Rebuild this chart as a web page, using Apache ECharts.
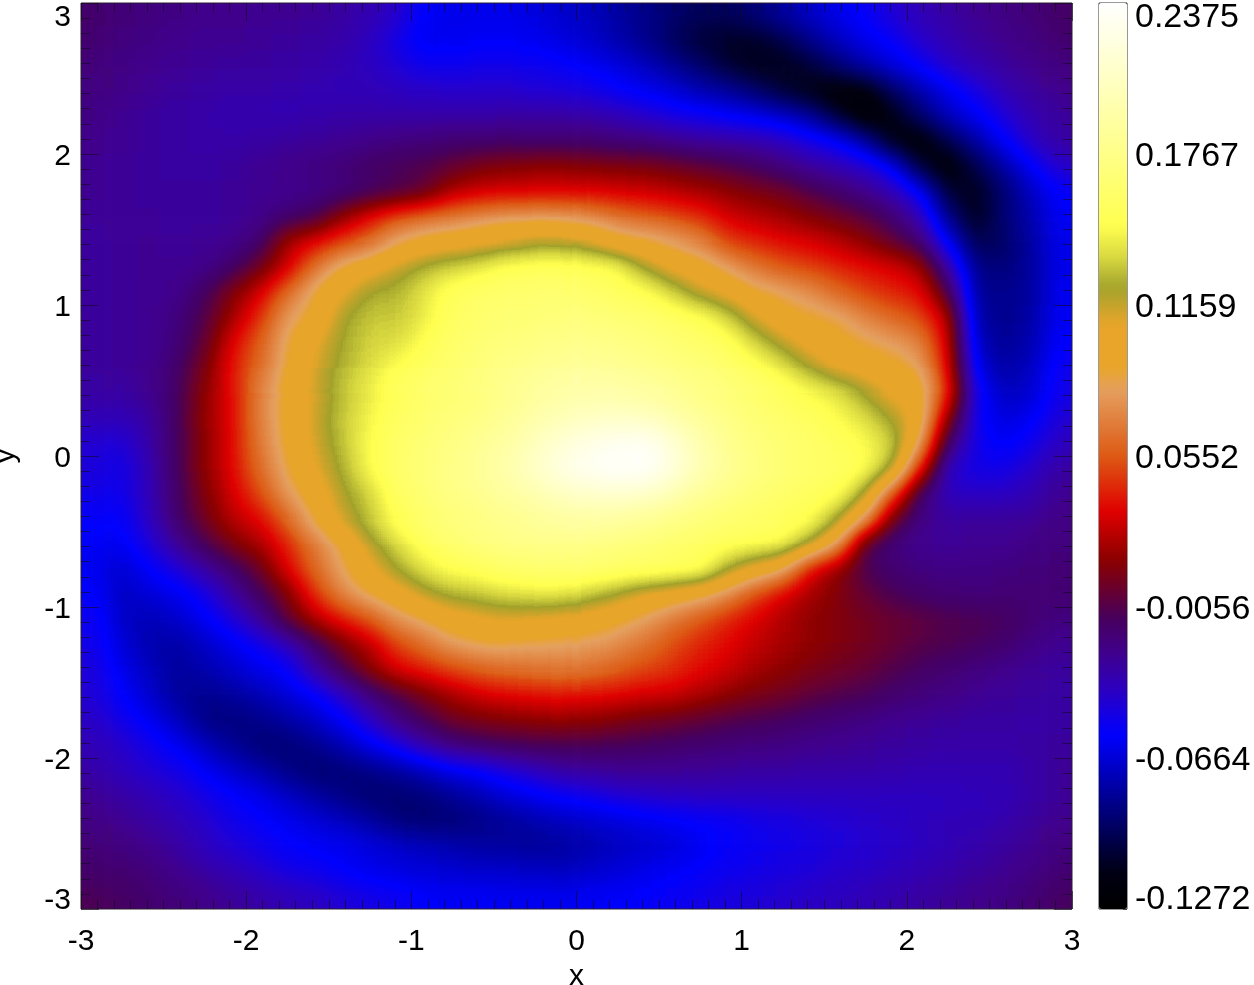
<!DOCTYPE html>
<html><head><meta charset="utf-8">
<style>html,body{margin:0;padding:0;background:#fff;overflow:hidden;width:1254px;height:985px}
#c{position:absolute;left:0;top:-60px;width:1254px;height:1045px}</style>
<script src="https://cdn.jsdelivr.net/npm/echarts@6/dist/echarts.min.js"></script>
</head><body>
<svg width="0" height="0" style="position:absolute"><filter id="fieldFilter" x="0" y="0" width="100%" height="100%" color-interpolation-filters="sRGB"><feGaussianBlur stdDeviation="12"/><feComponentTransfer><feFuncR id="fr" type="table"/><feFuncG id="fg" type="table"/><feFuncB id="fb" type="table"/></feComponentTransfer></filter></svg>
<div id="c"></div>
<script>
// cell centres, 1/6 unit apart
const xCats=['-2.917','-2.750','-2.583','-2.417','-2.250','-2.083','-1.917','-1.750','-1.583','-1.417','-1.250','-1.083','-0.917','-0.750','-0.583','-0.417','-0.250','-0.083','0.083','0.250','0.417','0.583','0.750','0.917','1.083','1.250','1.417','1.583','1.750','1.917','2.083','2.250','2.417','2.583','2.750','2.917'];
const yCats=['2.917','2.750','2.583','2.417','2.250','2.083','1.917','1.750','1.583','1.417','1.250','1.083','0.917','0.750','0.583','0.417','0.250','0.083','-0.083','-0.250','-0.417','-0.583','-0.750','-0.917','-1.083','-1.250','-1.417','-1.583','-1.750','-1.917','-2.083','-2.250','-2.417','-2.583','-2.750','-2.917'];
const colorbarTicks=[-0.1272,-0.0664,-0.0056,0.0552,0.1159,0.1767,0.2375];
const colorbarMinorTicks=[-0.0968,-0.0360,0.0248,0.0856,0.1463,0.2071];
// values, in thousandths, top row first
const r00=[-14,-18,-20,-22,-24,-24,-25,-26,-27,-30,-34,-42,-58,-62,-62,-62,-64,-68,-72,-78,-85,-92,-96,-96,-88,-78,-70,-62,-54,-44,-36,-30,-26,-22,-18,-13];
const r01=[-16,-20,-22,-24,-26,-26,-27,-28,-30,-32,-38,-50,-62,-60,-58,-58,-60,-64,-68,-75,-85,-95,-104,-108,-108,-100,-85,-72,-62,-54,-42,-34,-28,-24,-20,-16];
const r02=[-18,-21,-24,-26,-27,-28,-29,-30,-32,-34,-38,-44,-52,-52,-50,-50,-52,-54,-58,-64,-72,-82,-92,-104,-112,-112,-104,-90,-76,-64,-54,-42,-34,-28,-24,-20];
const r03=[-20,-23,-26,-28,-30,-31,-32,-33,-34,-35,-36,-38,-40,-42,-42,-42,-44,-45,-48,-54,-60,-66,-74,-80,-92,-105,-115,-122,-118,-95,-76,-62,-48,-36,-28,-24];
const r04=[-22,-25,-28,-30,-32,-34,-34,-34,-33,-32,-32,-32,-32,-32,-32,-30,-30,-30,-32,-36,-42,-48,-52,-57,-62,-68,-80,-105,-124,-115,-92,-72,-60,-46,-34,-28];
const r05=[-24,-26,-28,-30,-32,-32,-30,-29,-27,-25,-23,-20,-18,-16,-15,-14,-15,-15,-16,-18,-20,-24,-28,-30,-33,-38,-48,-57,-78,-115,-122,-100,-78,-58,-40,-30];
const r06=[-25,-27,-28,-30,-30,-28,-26,-23,-20,-17,-12,-9,-5,0,8,12,14,14,12,10,8,5,0,-6,-12,-20,-28,-36,-42,-60,-105,-122,-100,-78,-58,-42];
const r07=[-26,-27,-28,-28,-28,-27,-26,-25,-23,-20,-14,-8,0,22,28,30,31,32,33,30,28,25,20,15,8,4,-6,-14,-24,-36,-57,-105,-112,-92,-72,-56];
const r08=[-27,-27,-27,-28,-28,-27,-24,-16,-10,15,35,52,60,68,75,80,82,80,74,65,58,52,44,30,24,18,12,5,-3,-16,-35,-85,-112,-90,-76,-58];
const r09=[-28,-27,-26,-27,-26,-24,-16,20,35,48,62,85,95,100,105,110,118,118,112,95,90,82,70,48,42,36,32,25,15,0,-15,-60,-98,-95,-78,-62];
const r10=[-28,-27,-26,-25,-24,-14,5,28,65,92,102,116,128,134,142,152,155,155,152,148,122,105,98,82,66,55,48,42,36,32,18,-30,-84,-88,-80,-62];
const r11=[-28,-27,-26,-24,-12,10,30,62,90,108,125,128,140,155,160,163,165,165,162,156,150,135,115,104,90,85,75,60,48,42,36,-5,-80,-85,-80,-60];
const r12=[-28,-27,-25,-20,-6,18,45,80,92,122,132,132,142,158,163,166,168,170,170,168,165,158,152,135,112,95,90,86,72,60,50,25,-76,-84,-78,-58];
const r13=[-28,-27,-25,-18,0,33,58,88,108,125,135,138,150,162,167,172,175,178,178,176,172,168,162,155,135,118,102,95,88,82,70,30,-70,-82,-75,-57];
const r14=[-28,-27,-24,-14,8,38,62,90,112,128,138,150,158,165,170,178,182,186,186,184,180,175,170,163,155,140,122,105,100,95,84,35,-62,-78,-72,-52];
const r15=[-30,-30,-24,-12,14,36,70,93,112,130,142,155,163,168,172,180,188,193,195,194,190,184,176,170,163,156,148,140,122,105,98,45,-50,-72,-68,-50];
const r16=[-36,-36,-30,-12,16,35,70,93,114,132,145,157,165,170,176,184,194,202,208,210,208,198,186,176,168,162,156,148,138,122,100,15,-52,-65,-60,-44];
const r17=[-44,-46,-32,-12,15,34,68,92,112,130,148,160,168,175,183,192,205,218,226,232,234,218,198,182,172,166,160,155,148,135,85,-15,-50,-60,-52,-38];
const r18=[-46,-50,-34,-12,14,34,62,88,108,126,148,162,170,178,186,196,210,224,233,237,237,222,200,184,174,168,162,157,150,125,40,-42,-50,-50,-42,-30];
const r19=[-50,-52,-36,-13,10,30,52,80,98,120,135,158,168,176,182,190,198,208,212,214,212,200,186,176,168,162,156,152,122,55,-15,-38,-40,-40,-34,-26];
const r20=[-56,-56,-38,-14,6,25,34,60,90,115,132,152,163,170,175,180,186,190,192,190,185,178,170,163,160,155,150,125,82,5,-22,-28,-27,-27,-27,-22];
const r21=[-58,-60,-46,-26,-8,10,22,42,68,90,118,138,155,165,172,176,178,178,176,172,168,162,158,153,150,148,122,82,-5,-20,-26,-27,-26,-25,-22,-20];
const r22=[-60,-68,-57,-45,-30,-16,3,33,60,85,105,125,140,150,155,162,165,165,165,162,160,158,154,125,105,88,35,13,-8,-16,-20,-22,-22,-20,-18,-17];
const r23=[-56,-72,-66,-62,-50,-30,-12,8,45,72,90,100,118,128,132,138,140,140,132,122,108,100,90,75,50,32,18,10,0,-8,-14,-17,-18,-17,-17,-16];
const r24=[-52,-70,-74,-68,-60,-45,-28,0,22,38,55,78,88,100,106,110,108,104,100,92,82,68,55,42,32,22,14,10,6,2,-2,-5,-7,-10,-16,-20];
const r25=[-50,-66,-76,-78,-70,-62,-52,-38,-14,8,25,48,65,80,88,88,85,83,80,75,65,52,42,34,26,20,14,10,6,0,-4,-7,-10,-14,-22,-26];
const r26=[-46,-62,-72,-80,-76,-68,-62,-55,-32,-8,13,33,40,50,58,62,65,66,64,58,50,44,36,28,20,14,8,4,0,-6,-12,-16,-20,-24,-27,-29];
const r27=[-44,-57,-68,-80,-85,-80,-74,-66,-57,-40,-20,-5,8,20,30,35,37,38,36,34,30,28,22,14,8,4,-1,-5,-9,-14,-18,-22,-25,-27,-29,-30];
const r28=[-40,-50,-60,-72,-86,-88,-85,-78,-70,-58,-40,-20,-8,4,9,12,15,16,14,10,6,3,-2,-6,-9,-12,-15,-18,-22,-25,-27,-29,-30,-30,-31,-30];
const r29=[-36,-42,-50,-60,-72,-82,-90,-90,-84,-74,-62,-48,-32,-20,-14,-10,-8,-8,-9,-10,-12,-14,-16,-18,-20,-22,-24,-26,-27,-29,-30,-31,-32,-32,-30,-28];
const r30=[-32,-38,-44,-48,-58,-68,-76,-86,-92,-90,-86,-80,-72,-62,-55,-46,-38,-30,-28,-26,-26,-26,-27,-28,-30,-30,-31,-32,-32,-33,-34,-34,-34,-34,-31,-27];
const r31=[-26,-30,-36,-42,-48,-56,-62,-70,-78,-86,-92,-92,-88,-82,-74,-66,-60,-54,-50,-44,-42,-40,-38,-38,-38,-38,-38,-38,-38,-38,-38,-38,-37,-36,-32,-27];
const r32=[-21,-25,-30,-36,-42,-50,-56,-60,-66,-72,-78,-88,-92,-90,-86,-82,-76,-72,-68,-65,-62,-58,-56,-54,-50,-48,-46,-44,-42,-40,-38,-36,-35,-33,-29,-24];
const r33=[-17,-20,-24,-30,-38,-44,-50,-56,-58,-60,-64,-68,-72,-76,-78,-80,-82,-80,-75,-72,-69,-65,-60,-56,-53,-50,-48,-46,-44,-42,-38,-35,-33,-29,-25,-20];
const r34=[-14,-16,-19,-24,-30,-36,-42,-48,-52,-57,-62,-64,-66,-67,-68,-69,-70,-72,-68,-65,-62,-58,-55,-52,-50,-47,-45,-42,-40,-37,-34,-31,-28,-25,-21,-17];
const r35=[-9,-12,-16,-19,-23,-27,-31,-35,-39,-44,-48,-52,-57,-58,-59,-60,-60,-60,-58,-57,-56,-53,-50,-47,-45,-43,-40,-38,-36,-33,-30,-27,-24,-21,-17,-12];
const zRows=[r00,r01,r02,r03,r04,r05,r06,r07,r08,r09,r10,r11,r12,r13,r14,r15,r16,r17,r18,r19,r20,r21,r22,r23,r24,r25,r26,r27,r28,r29,r30,r31,r32,r33,r34,r35];

// colour table (thousandths -> colour)
const rampStops=[[-127.2,'#000000'],[-113,'#000012'],[-83,'#000090'],[-57,'#0000ff'],[-40,'#2a00c4'],[-24,'#40008c'],[-11,'#450060'],[13,'#8a0000'],[33,'#e00000'],[55,'#dd5a14'],[82,'#e5a060'],[90,'#e8a52a'],[108,'#e8a52a'],[123,'#a3a32c'],[135,'#d8d840'],[148,'#ffff50'],[237.5,'#ffffff']];
function hex(c){return [1,3,5].map(i=>parseInt(c.substr(i,2),16));}
function rampRGB(n){const out=[];for(let k=0;k<n;k++){const v=-127.2+364.7*k/(n-1);let s=0;
  while(s<rampStops.length-2&&v>rampStops[s+1][0])s++;
  const a=rampStops[s],b=rampStops[s+1],t=(v-a[0])/(b[0]-a[0]),A=hex(a[1]),B=hex(b[1]);
  out.push(A.map((q,i)=>Math.round(q+(B[i]-q)*t)));}return out;}
const rampColors=rampRGB(147).map(c=>'rgb('+c.join(',')+')');
const table=rampRGB(256);
['fr','fg','fb'].forEach((id,ch)=>document.getElementById(id).setAttribute('tableValues',table.map(c=>(c[ch]/255).toFixed(4)).join(' ')));

const TOP=60, PX=81, PY=3+TOP, PW=991, PH=906, PAD=2;
const cw=PW/xCats.length, ch=PH/yCats.length, nx=xCats.length, ny=yCats.length;
const xAll=[], yAll=[];
for(let i=-PAD;i<nx+PAD;i++)xAll.push(i<0||i>=nx?'pad'+i:xCats[i]);
for(let j=-PAD;j<ny+PAD;j++)yAll.push(j<0||j>=ny?'pad'+j:yCats[j]);
const cells=[], outer=[];
for(let j=-PAD;j<ny+PAD;j++)for(let i=-PAD;i<nx+PAD;i++){
  const jj=Math.min(ny-1,Math.max(0,j)), ii=Math.min(nx-1,Math.max(0,i));
  const p=[i+PAD,j+PAD,zRows[jj][ii]/1000];
  (j===jj&&i===ii?cells:outer).push(p);
}
const FONT='"Liberation Sans", Arial, sans-serif';
const tickCol='rgba(20,10,30,0.6)';
const T30={color:'#000',fontSize:30,fontFamily:FONT};
const T34={color:'#000',fontSize:34,fontFamily:FONT};
function frameAxis(pos,labels,extra){return Object.assign({
  type:'value',gridIndex:1,min:-3,max:3,interval:1,position:pos,zlevel:1,scale:false,
  axisLine:{show:false,onZero:false},splitLine:{show:false},minorSplitLine:{show:false},
  axisTick:{show:true,inside:true,length:18,lineStyle:{color:tickCol,width:1}},
  minorTick:{show:true,splitNumber:10,length:9,lineStyle:{color:tickCol,width:1}},
  axisLabel:{show:labels,color:'#000',fontSize:30,fontFamily:FONT,showMinLabel:true,showMaxLabel:true}
},extra||{});}
const option={
  animation:false,
  grid:[
    {left:PX-PAD*cw,top:PY-PAD*ch,width:PW+2*PAD*cw,height:PH+2*PAD*ch,show:false,zlevel:0,outerBoundsMode:'none'},
    {left:PX,top:PY,width:PW,height:PH,show:true,backgroundColor:'transparent',borderColor:'#2a2030',borderWidth:1,zlevel:1,outerBoundsMode:'none'},
    {left:1099,top:PY,width:28,height:PH,show:true,backgroundColor:'transparent',borderColor:'#333',borderWidth:1,zlevel:1,outerBoundsMode:'none'}
  ],
  xAxis:[
    {type:'category',gridIndex:0,data:xAll,show:false,zlevel:0},
    frameAxis('bottom',true,{name:'x',nameLocation:'middle',nameGap:52,nameTextStyle:T30,axisLabel:Object.assign({show:true,margin:18,showMinLabel:true,showMaxLabel:true},T30)}),
    frameAxis('top',false),
    {type:'value',gridIndex:2,min:0,max:1,show:false,zlevel:1}
  ],
  yAxis:[
    {type:'category',gridIndex:0,data:yAll,inverse:true,show:false,zlevel:0},
    frameAxis('left',true,{name:'y',nameLocation:'middle',nameGap:60,nameTextStyle:T30,axisLabel:Object.assign({show:true,margin:10,showMinLabel:true,showMaxLabel:true,verticalAlignMinLabel:'bottom',verticalAlignMaxLabel:'top',
      formatter:v=>v===3?'{t|3}':v===-3?'{b|-3}':'{m|'+v+'}',
      rich:{t:Object.assign({lineHeight:30},T30),b:Object.assign({lineHeight:16},T30),m:Object.assign({padding:[6,0,0,0]},T30)}},T30)}),
    frameAxis('right',false),
    {type:'value',gridIndex:2,position:'right',min:-0.1272,max:0.2375,zlevel:1,scale:false,
     axisLine:{show:false,onZero:false},splitLine:{show:false},
     axisTick:{show:true,inside:true,length:4,customValues:colorbarTicks.concat(colorbarMinorTicks),lineStyle:{color:'rgba(40,30,20,0.7)'}},
     axisLabel:Object.assign({margin:8,customValues:colorbarTicks,showMinLabel:true,showMaxLabel:true,verticalAlignMinLabel:'bottom',verticalAlignMaxLabel:'top',
       formatter:v=>{const s=v.toFixed(4);return v===0.2375?'{t|'+s+'}':v===-0.1272?'{b|'+s+'}':'{m|'+s+'}';},
       rich:{t:Object.assign({lineHeight:30},T34),b:Object.assign({lineHeight:18},T34),m:Object.assign({padding:[6,0,0,0]},T34)}},T34)}
  ],
  visualMap:[
    {type:'continuous',show:false,seriesIndex:[0,1],min:-0.1272,max:0.2375,inRange:{color:['#000000','#ffffff']}},
    {type:'continuous',seriesIndex:[],min:-0.1272,max:0.2375,calculable:false,realtime:false,hoverLink:false,
     left:1099,top:PY,itemWidth:28,itemHeight:PH,padding:0,text:null,zlevel:1,z:1,
     inRange:{color:rampColors},textStyle:{fontSize:0}}
  ],
  series:[
    {name:'edge padding for the smoothing filter',type:'heatmap',xAxisIndex:0,yAxisIndex:0,data:outer,zlevel:0,silent:true,progressive:0,animation:false},
    {name:'field',type:'heatmap',xAxisIndex:0,yAxisIndex:0,data:cells,zlevel:0,silent:true,progressive:0,animation:false}
  ]
};
const chart=echarts.init(document.getElementById('c'),null,{renderer:'canvas',width:1254,height:1045});
chart.setOption(option);
const base=document.querySelector('#c canvas');
base.style.filter='url(#fieldFilter)';
base.style.clipPath='inset('+PY+'px '+(1254-PX-PW)+'px '+(1045-PY-PH)+'px '+PX+'px)';
</script></body></html>
